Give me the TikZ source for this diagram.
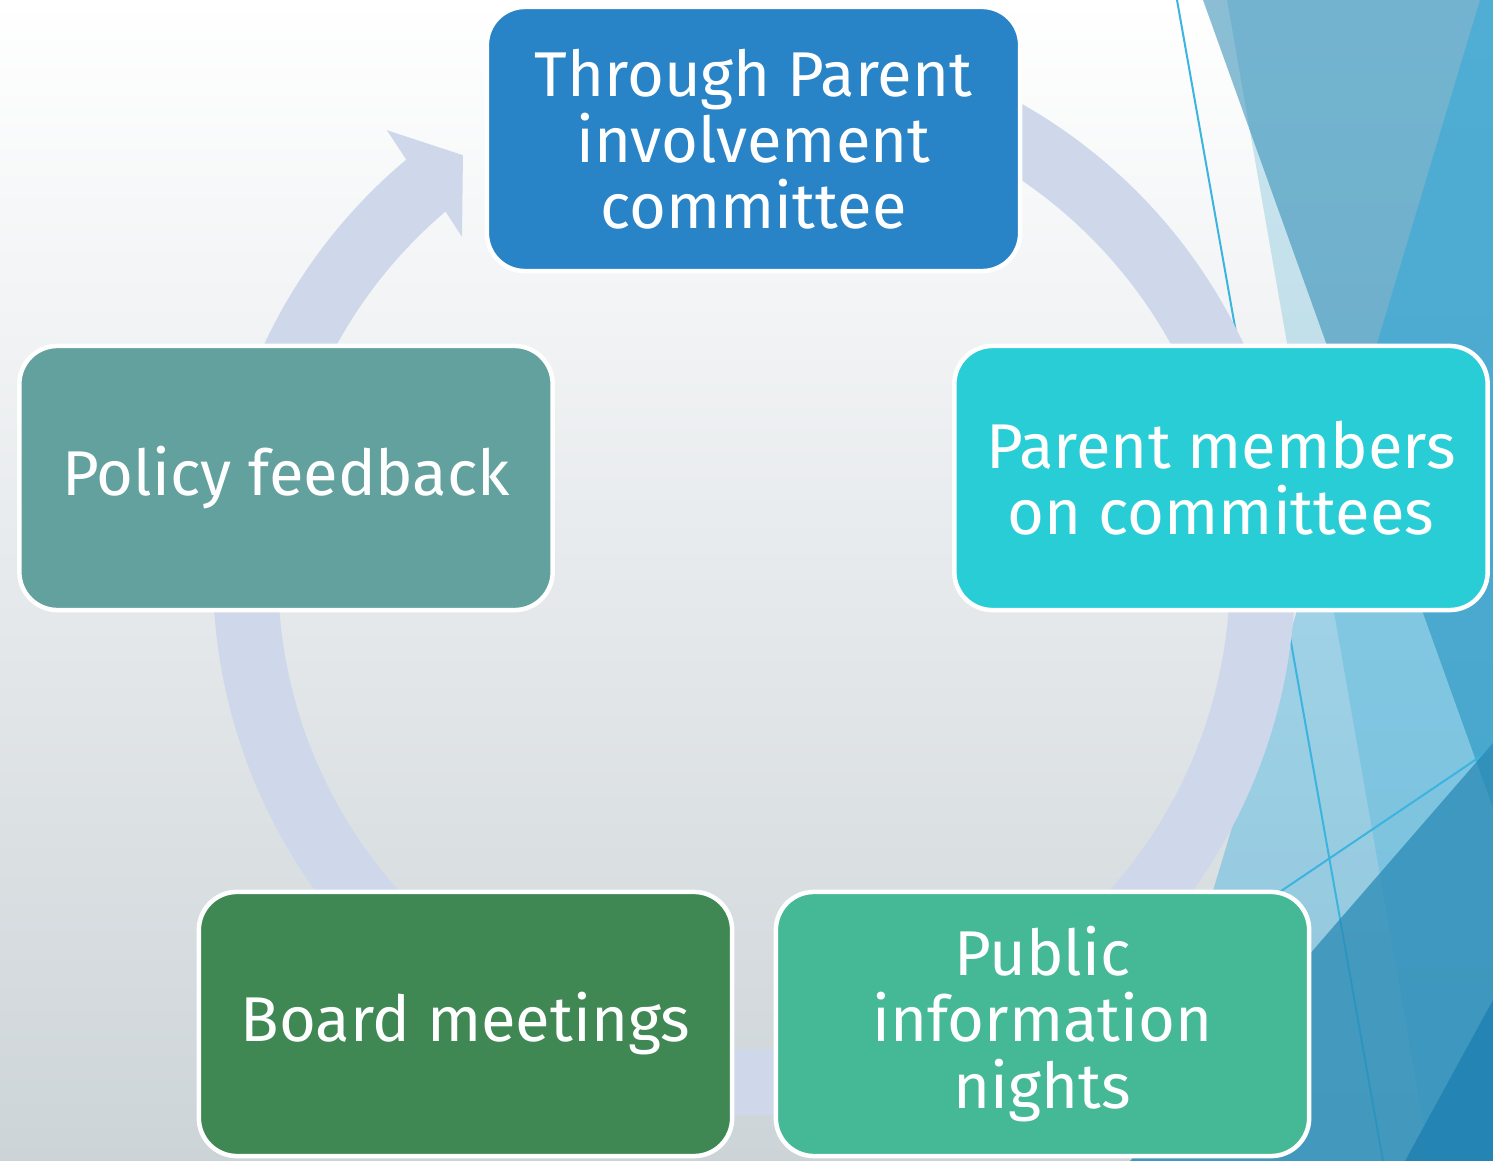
\documentclass[tikz,border=0pt]{standalone}
\usepackage{fontspec}
\setmainfont{Fira Sans}
\definecolor{bgbot}{RGB}{205,212,216}
\definecolor{bandc}{RGB}{207,216,234}
\definecolor{fF}{RGB}{116,192,219}
\definecolor{fS1}{RGB}{44,138,180}
\definecolor{fS2}{RGB}{0,160,223}
\definecolor{fS3}{RGB}{42,138,181}
\definecolor{fS4}{RGB}{20,120,172}
\definecolor{lineblue}{RGB}{60,180,224}
\definecolor{ctop}{RGB}{40,132,198}
\definecolor{cright}{RGB}{41,205,214}
\definecolor{cbr}{RGB}{69,185,150}
\definecolor{cbl}{RGB}{63,136,84}
\definecolor{cleft}{RGB}{99,161,158}
\begin{document}
\begin{tikzpicture}[x=0.01cm,y=-0.01cm,
  cbox/.style={draw=white, line width=0.045cm, rounded corners=0.38cm,
    minimum width=5.33cm, minimum height=2.64cm, align=center, text=white,
    inner sep=0pt, font=\fontsize{18pt}{18.8pt}\selectfont},
  decoline/.style={draw=lineblue, line width=0.02cm}]
\useasboundingbox (0,0) rectangle (1493,1161);
% background
\shade[top color=white, bottom color=bgbot] (0,0) rectangle (1493,1161);
% decorative facets
\fill[fF, opacity=0.37] (1227,0) -- (1493,0) -- (1493,1161) -- (1430,1161) -- cycle;
\fill[fS1, opacity=0.55] (1203,0) -- (1493,0) -- (1493,808) -- cycle;
\fill[fS2, opacity=0.3] (1480,0) -- (1493,0) -- (1493,1161) -- (1132,1161) -- cycle;
\coordinate (l1a) at (1177,0);
\coordinate (l1b) at (1383,1161);
\coordinate (l2a) at (1493,748);
\coordinate (l2b) at (1250,912);
\draw[decoline] (l1a) -- (l1b);
\draw[decoline] (l2a) -- (l2b);
\fill[fS3, opacity=0.75] (1493,743) -- (1493,1161) -- (1130,1161) -- cycle;
\fill[fS4, opacity=0.6] (1493,1000) -- (1493,1161) -- (1405,1161) -- cycle;
% cycle ring with arrow head
\begin{scope}[shift={(754,574)}, yscale=-1]
\fill[bandc] (115:541) arc[start angle=115, end angle=-230, radius=541]
  -- (129.6:576) -- (124.8:510) -- (130.9:446) -- (130.4:476)
  arc[start angle=130.4, end angle=475, radius=476] -- cycle;
\end{scope}
% boxes
\node[cbox, fill=ctop] (top) at (753.5,139) {Through Parent\\involvement\\committee};
\node[cbox, fill=cright] (right) at (1221,478) {Parent members\\on committees};
\node[cbox, fill=cbr] (br) at (1042.5,1024) {Public\\information\\nights};
\node[cbox, fill=cbl] (bl) at (465.5,1024) {Board meetings};
\node[cbox, fill=cleft] (left) at (286,478) {Policy feedback};
\end{tikzpicture}
\end{document}
